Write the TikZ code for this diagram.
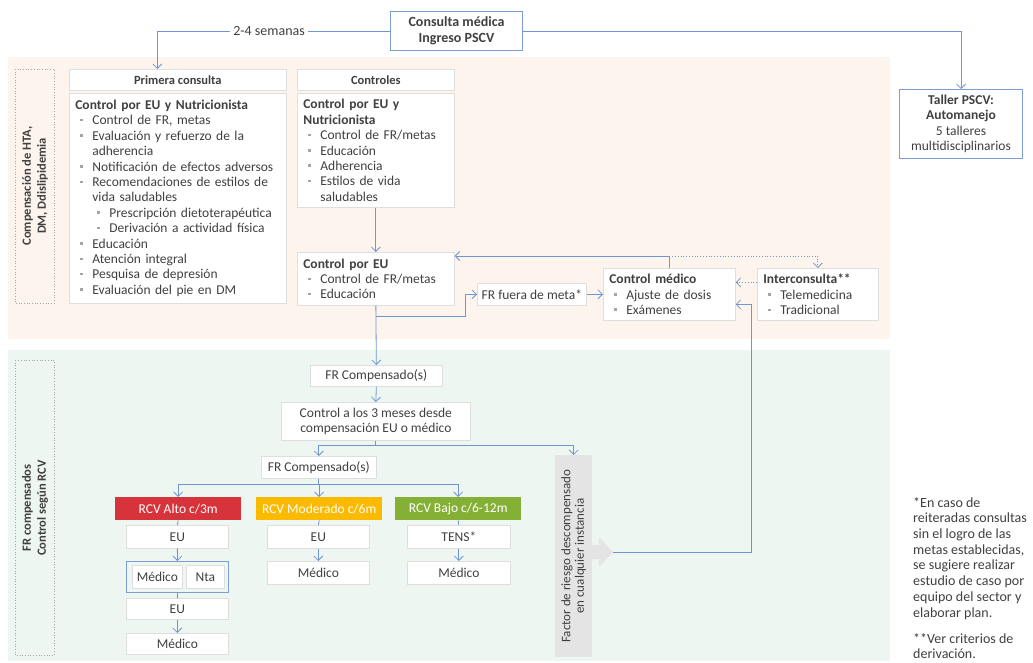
\documentclass[tikz,border=0pt]{standalone}
\usepackage{fontspec}
\setmainfont{Carlito}
\usetikzlibrary{arrows.meta,calc,positioning}
\setlength{\parindent}{0pt}

\definecolor{txt}{RGB}{64,64,64}
\definecolor{boxline}{RGB}{222,222,222}
\definecolor{blueline}{RGB}{125,158,212}
\definecolor{conncol}{RGB}{112,150,210}
\definecolor{bgor}{RGB}{253,244,237}
\definecolor{bggr}{RGB}{238,246,241}
\definecolor{grisbox}{RGB}{228,228,228}
\definecolor{bul}{RGB}{165,165,165}
\definecolor{rojo}{RGB}{214,52,58}
\definecolor{amarillo}{RGB}{251,185,0}
\definecolor{verde}{RGB}{133,176,54}

\newcommand{\fnbody}{\fontsize{13.5}{15.4}\selectfont}
% bullet items
\newcommand{\bulmark}{\textcolor{bul}{\raisebox{3.5pt}{\rule{2.5pt}{2.5pt}}}}
\newcommand{\itm}[1]{\par\noindent\makebox[17pt][l]{\hspace{5pt}\bulmark}#1}
\newcommand{\sitm}[1]{\par\noindent\makebox[34pt][l]{\hspace{22pt}\bulmark}#1}
\newcommand{\ind}{\hspace*{17pt}}

\tikzset{
  box/.style={draw=boxline, fill=white, line width=0.7pt, inner sep=0pt, text=txt, anchor=north west},
  bbox/.style={box, draw=blueline, line width=1pt},
  cbox/.style={box, inner xsep=6pt, inner ysep=3pt, align=left},
  head/.style={box, font=\fontsize{12.5}{14}\selectfont\bfseries},
  rcv/.style={anchor=north west, inner sep=0pt, text=white, font=\fontsize{13.5}{15}\selectfont},
  conn/.style={draw=conncol, line width=0.8pt, -{Straight Barb[length=4.5pt,width=9pt]}},
  line/.style={draw=conncol, line width=0.8pt},
  dotconn/.style={conn, dotted},
  lblbox/.style={draw=bul, dotted, line width=0.7pt},
}

\begin{document}
\begin{tikzpicture}[x=1pt,y=-1pt,font=\fnbody,text=txt]
\useasboundingbox (0,0) rectangle (1033,663);

% backgrounds
\fill[bgor] (8,57) rectangle (890,339);
\fill[bggr] (8,350) rectangle (890,661);
\draw[lblbox] (15,69) rectangle (54,303);
\draw[lblbox] (15,360) rectangle (54,655);
\node[rotate=90, align=center, font=\fontsize{12.5}{15}\selectfont\bfseries] (lblHTA) at (35,186) {Compensación de HTA,\\DM, Ddislipidemia};
\node[rotate=90, align=center, font=\fontsize{12.5}{15}\selectfont\bfseries] (lblRCV) at (35,508) {FR compensados\\Control según RCV};

% top
\node[bbox, minimum width=132pt, minimum height=39pt, align=center, font=\fontsize{14}{15.5}\selectfont\bfseries] (consulta) at (390,11) {Consulta médica\\Ingreso PSCV};
\node[bbox, minimum width=123pt, minimum height=69pt, align=center] (taller) at (899,89) {\textbf{Taller PSCV:}\\\textbf{Automanejo}\\5 talleres\\multidisciplinarios};

% orange area
\node[head, minimum width=217pt, minimum height=21pt] (hPrim) at (69,69) {Primera consulta};
\node[cbox, text width=205pt, minimum height=210pt] (cPrim) at (69,93) {%
\textbf{Control por EU y Nutricionista}
\itm{Control de FR, metas}
\itm{Evaluación y refuerzo de la\\\ind adherencia}
\itm{Notificación de efectos adversos}
\itm{Recomendaciones de estilos de\\\ind vida saludables}
\sitm{Prescripción dietoterapéutica}
\sitm{Derivación a actividad física}
\itm{Educación}
\itm{Atención integral}
\itm{Pesquisa de depresión}
\itm{Evaluación del pie en DM}};
\node[head, minimum width=157pt, minimum height=21pt] (hCont) at (297,69) {Controles};
\node[cbox, text width=145pt, minimum height=114pt] (cCont) at (297,93) {%
\textbf{Control por EU y\\Nutricionista}
\itm{Control de FR/metas}
\itm{Educación}
\itm{Adherencia}
\itm{Estilos de vida\\\ind saludables}};
\node[cbox, text width=145pt, minimum height=53pt] (cEU) at (297,252) {%
\textbf{Control por EU}
\itm{Control de FR/metas}
\itm{Educación}};
\node[box, minimum width=109pt, minimum height=22pt] (frFuera) at (477,283) {FR fuera de meta*};
\node[cbox, text width=120pt, minimum height=52pt] (cMed) at (603,268) {%
\textbf{Control médico}
\itm{Ajuste de dosis}
\itm{Exámenes}};
\node[cbox, text width=109pt, minimum height=52pt] (inter) at (757,268) {%
\textbf{Interconsulta**}
\itm{Telemedicina}
\itm{Tradicional}};

% green area
\node[box, minimum width=132pt, minimum height=21pt] (frc1) at (310,365) {FR Compensado(s)};
\node[box, minimum width=189pt, minimum height=38pt, align=center] (ctrl3) at (281,402) {Control a los 3 meses desde\\compensación EU o médico};
\node[box, minimum width=115pt, minimum height=22pt] (frc2) at (261,456) {FR Compensado(s)};
\node[anchor=north west, fill=grisbox, minimum width=37pt, minimum height=202pt, inner sep=0pt] (gbox) at (555,455) {};
\node[rotate=90, align=center, font=\fontsize{13}{13.5}\selectfont] (gtxt) at (gbox.center) {Factor de riesgo descompensado\\en cualquier instancia};
\fill[grisbox] (592,545) -- (599,545) -- (599,537) -- (613,552) -- (599,567) -- (599,559) -- (592,559) -- cycle;
\coordinate (gTip) at (613,552);

\node[rcv, fill=rojo, minimum width=126pt, minimum height=23pt] (rAlto) at (115,497) {RCV Alto c/3m};
\node[rcv, fill=amarillo, minimum width=126pt, minimum height=23pt] (rMod) at (256,497) {RCV Moderado c/6m};
\node[rcv, fill=verde, minimum width=126pt, minimum height=23pt] (rBajo) at (395,497) {RCV Bajo c/6-12m};

\node[box, minimum width=102pt, minimum height=23pt] (eu1) at (126,525) {EU};
\node[bbox, fill=none, minimum width=102pt, minimum height=31pt] (grp) at (126,561) {};
\node[box, minimum width=50pt, minimum height=23pt] (medA) at (132,565) {Médico};
\node[box, minimum width=38pt, minimum height=23pt] (nta) at (186,565) {Nta};
\node[box, minimum width=102pt, minimum height=21pt] (eu2) at (126,598) {EU};
\node[box, minimum width=102pt, minimum height=21pt] (med1) at (126,633) {Médico};

\node[box, minimum width=102pt, minimum height=23pt] (eu3) at (267,525) {EU};
\node[box, minimum width=102pt, minimum height=23pt] (med2) at (267,561) {Médico};
\node[box, minimum width=103pt, minimum height=23pt] (tens) at (407,525) {TENS*};
\node[box, minimum width=103pt, minimum height=23pt] (med3) at (407,561) {Médico};

% notes
\node[anchor=north west, align=left, inner sep=0pt, font=\fontsize{14}{15.7}\selectfont] (nota1) at (913,497) {*En caso de\\reiteradas consultas\\sin el logro de las\\metas establecidas,\\se sugiere realizar\\estudio de caso por\\equipo del sector y\\elaborar plan.};
\node[anchor=north west, align=left, inner sep=0pt, font=\fontsize{14}{15}\selectfont] (nota2) at (913,633) {**Ver criterios de\\derivación.};

% connectors
\draw[conn] (consulta.west) -| node[pos=0.26, fill=white, inner sep=3pt, font=\fontsize{14}{15}\selectfont] {2-4 semanas} ([xshift=-20.5pt]hPrim.north);
\draw[conn] (consulta.east) -| (taller.north);
\draw[conn] (cCont.south) -- (cEU.north);
\draw[conn] (cEU.south) -- (frc1.north);
\coordinate (brEU) at ($(cEU.south)+(0,11)$);
\draw[conn] (brEU) -| ([xshift=-12pt]frFuera.west) -- (frFuera.west);
\draw[conn] (frFuera.east) -- (frFuera.east -| cMed.west);
\coordinate (jMed) at ([yshift=12pt]cMed.north);
\draw[conn] (cMed.north) |- ([yshift=-4pt]cEU.north east);
\draw[dotconn] (jMed) -| (inter.north);
\draw[dotconn] ([yshift=12pt]inter.west) -- ([yshift=12pt]cMed.east);
\draw[conn] (gTip) -| ([xshift=16pt,yshift=-10pt]cMed.east) -- ([yshift=-10pt]cMed.east);

\draw[conn] (frc1.south) -- (ctrl3.north);
\coordinate (jC) at ([yshift=-5pt]ctrl3.south);
\draw[line] (ctrl3.south) -- (jC);
\draw[conn] (jC) -| (frc2.north);
\draw[conn] (jC) -| (gbox.north);
\coordinate (jR) at ([yshift=-6pt]frc2.south);
\draw[line] (frc2.south) -- (jR);
\foreach \r in {rAlto,rMod,rBajo}
  \draw[conn] (jR) -| (\r.north);

\draw[line] (rAlto.south) -- (eu1.north);
\draw[conn] (eu1.south) -- (grp.north);
\draw[line] (grp.south) -- (eu2.north);
\draw[conn] (eu2.south) -- (med1.north);
\draw[line] (rMod.south) -- (eu3.north);
\draw[conn] (eu3.south) -- (med2.north);
\draw[line] (rBajo.south) -- (tens.north);
\draw[conn] (tens.south) -- (med3.north);
\end{tikzpicture}
\end{document}
